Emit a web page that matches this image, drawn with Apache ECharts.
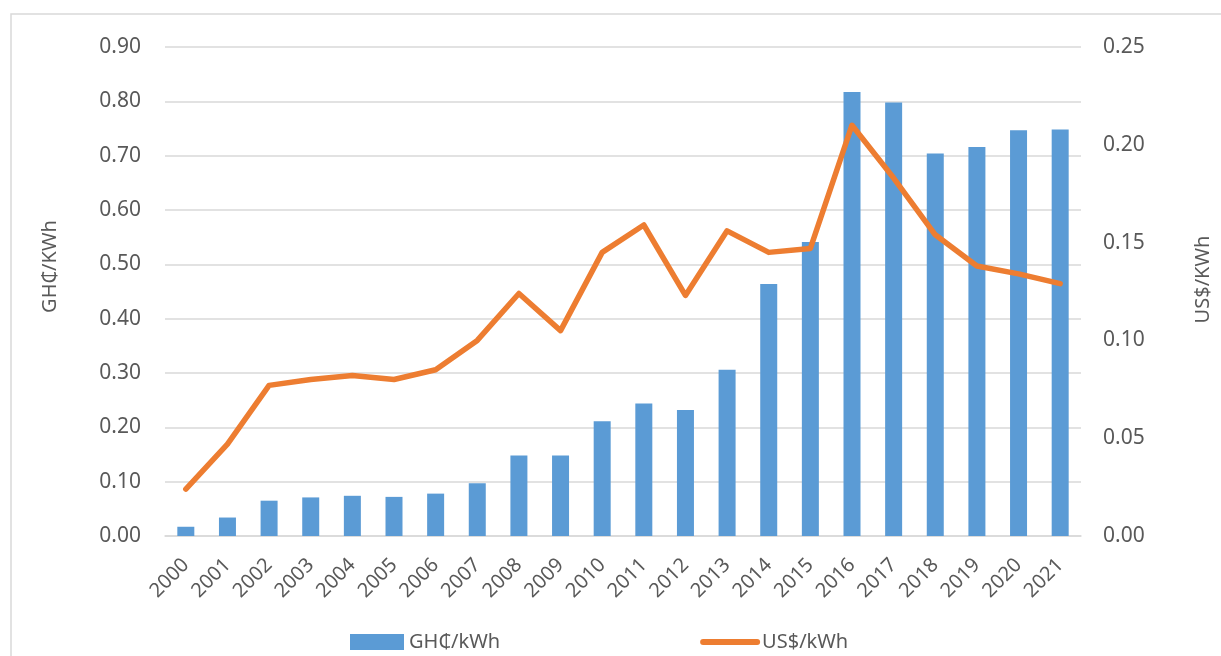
<!DOCTYPE html>
<html>
<head>
<meta charset="utf-8">
<script src="https://cdn.jsdelivr.net/npm/echarts@6/dist/echarts.min.js"></script>
<style>
  html, body { margin: 0; padding: 0; background: #fff; }
  #main { width: 1221px; height: 656px; }
</style>
</head>
<body>
<div id="main"></div>
<script>
var years = ['2000', '2001', '2002', '2003', '2004', '2005', '2006', '2007', '2008', '2009', '2010',
    '2011', '2012', '2013', '2014', '2015', '2016', '2017', '2018', '2019', '2020', '2021'];

// GH cedi per kWh (bars, left axis)
var ghsPerKwh = [0.017, 0.034, 0.065, 0.071, 0.074, 0.072, 0.078, 0.097, 0.148, 0.148, 0.211,
    0.244, 0.232, 0.306, 0.464, 0.541, 0.817, 0.798, 0.704, 0.716, 0.747, 0.748];

// US dollar per kWh (line, right axis)
var usdPerKwh = [0.024, 0.047, 0.077, 0.080, 0.082, 0.080, 0.085, 0.100, 0.124, 0.105, 0.145,
    0.159, 0.123, 0.156, 0.145, 0.147, 0.210, 0.183, 0.154, 0.138, 0.134, 0.129];

var leftTicks = { min: 0, max: 0.9, interval: 0.1 };
var rightTicks = { min: 0, max: 0.25, interval: 0.05 };

var font = 'Noto Sans';
var textGrey = '#595959';
var gridGrey = '#d9d9d9';

var myChart = echarts.init(document.getElementById('main'));

var option = {
    backgroundColor: '#fff',
    animation: false,
    textStyle: { fontFamily: font },
    graphic: [
        {
            type: 'rect',
            shape: { x: 11, y: 14, width: 1300, height: 700 },
            style: { fill: 'none', stroke: gridGrey, lineWidth: 1.5 }
        }
    ],
    grid: {
        left: 165,
        right: 138,
        top: 47,
        bottom: 120
    },
    legend: {
        left: 345,
        top: 627,
        itemGap: 200,
        itemWidth: 54,
        itemHeight: 16,
        textStyle: { color: textGrey, fontSize: 20, fontFamily: font },
        data: [
            { name: 'GH₵/kWh', icon: 'rect' },
            { name: 'US$/kWh', itemStyle: { opacity: 0 }, lineStyle: { width: 6, cap: 'round' } }
        ]
    },
    xAxis: {
        type: 'category',
        data: years,
        axisLine: { lineStyle: { color: gridGrey, width: 1.5 } },
        axisTick: { show: false },
        axisLabel: {
            rotate: 45,
            interval: 0,
            color: textGrey,
            fontSize: 20,
            margin: 26
        }
    },
    yAxis: [
        {
            type: 'value',
            min: leftTicks.min,
            max: leftTicks.max,
            interval: leftTicks.interval,
            name: 'GH₵/KWh',
            nameLocation: 'middle',
            nameRotate: 90,
            nameGap: 105,
            nameTextStyle: { color: textGrey, fontSize: 20, padding: [0, 0, 0, 50] },
            axisLine: { show: false },
            axisTick: { show: false },
            axisLabel: {
                color: textGrey,
                fontSize: 21,
                margin: 24,
                formatter: function (v) { return v.toFixed(2); }
            },
            splitLine: { lineStyle: { color: gridGrey, width: 1.5 } }
        },
        {
            type: 'value',
            min: rightTicks.min,
            max: rightTicks.max,
            interval: rightTicks.interval,
            name: 'US$/KWh',
            nameLocation: 'middle',
            nameRotate: 90,
            nameGap: 112,
            nameTextStyle: { color: textGrey, fontSize: 20, padding: [0, 0, 0, 24] },
            axisLine: { show: false },
            axisTick: { show: false },
            axisLabel: {
                color: textGrey,
                fontSize: 21,
                margin: 22,
                formatter: function (v) { return v.toFixed(2); }
            },
            splitLine: { show: false }
        }
    ],
    series: [
        {
            name: 'GH₵/kWh',
            type: 'bar',
            yAxisIndex: 0,
            barWidth: 17,
            itemStyle: { color: '#5b9bd5' },
            data: ghsPerKwh
        },
        {
            name: 'US$/kWh',
            type: 'line',
            yAxisIndex: 1,
            symbol: 'none',
            lineStyle: { color: '#ed7d31', width: 5.5, cap: 'round', join: 'round' },
            itemStyle: { color: '#ed7d31' },
            data: usdPerKwh
        }
    ]
};

myChart.setOption(option);
</script>
</body>
</html>
